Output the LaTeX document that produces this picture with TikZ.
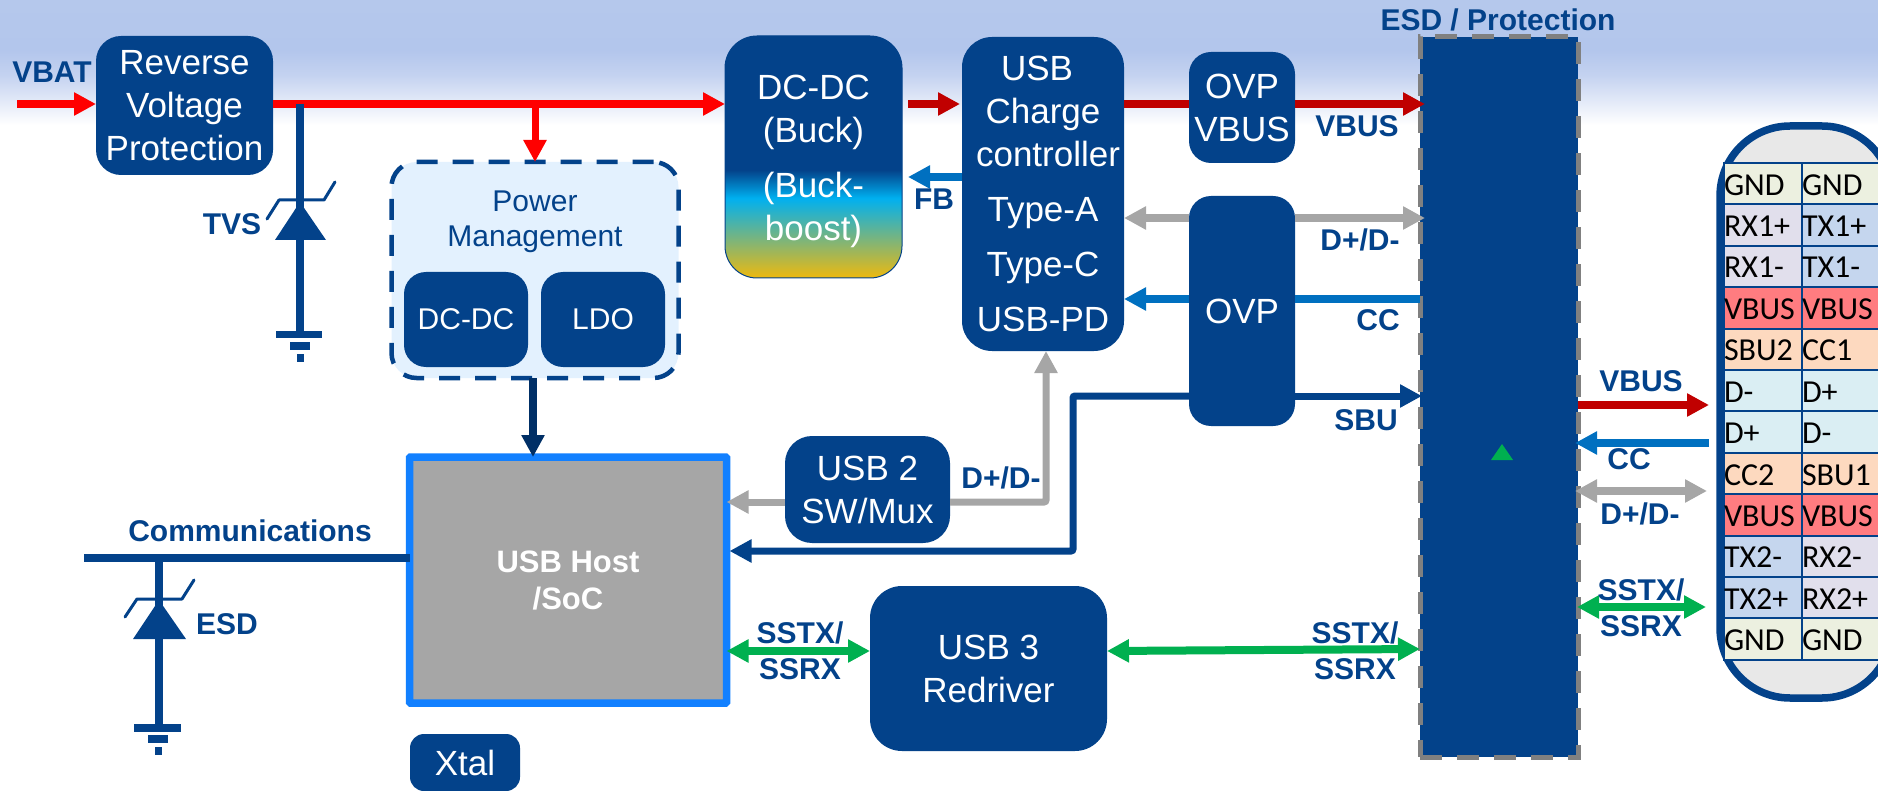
\documentclass[tikz,border=0pt]{standalone}
\usepackage{fontspec}
\setmainfont{Liberation Sans}
\newfontfamily\pinfont{Carlito}
\usetikzlibrary{arrows.meta}
\definecolor{navy}{HTML}{03428A}
\definecolor{deepnavy}{HTML}{002F66}
\definecolor{pmfill}{HTML}{E3F1FE}
\definecolor{wred}{HTML}{FF0000}
\definecolor{wdred}{HTML}{C00000}
\definecolor{wgray}{HTML}{A6A6A6}
\definecolor{wblue}{HTML}{0070C0}
\definecolor{wgreen}{HTML}{00B050}
\definecolor{socblue}{HTML}{1280FF}
\definecolor{pgnd}{HTML}{ECF0E0}
\definecolor{prx}{HTML}{E1DFEC}
\definecolor{ptx}{HTML}{C5D6EE}
\definecolor{pvb}{HTML}{FF7C80}
\definecolor{porg}{HTML}{FDD9BF}
\definecolor{pd}{HTML}{DAEEF3}
\definecolor{byellow}{HTML}{EEB90F}
\definecolor{bcyan}{HTML}{00B0F0}
\definecolor{skya}{HTML}{C4D2F0}
\definecolor{skyb}{HTML}{B3C6EC}
\definecolor{skyc}{HTML}{B5C8EC}
\pgfdeclareverticalshading{buckshade}{100bp}{color(0bp)=(byellow);color(25bp)=(byellow);color(41.5bp)=(bcyan);color(47.3bp)=(navy);color(100bp)=(navy)}
\pgfdeclareverticalshading{skyshade}{100bp}{color(0bp)=(white);color(25bp)=(white);color(45bp)=(skya);color(55bp)=(skyb);color(75bp)=(skyc);color(100bp)=(skyc)}
\tikzset{
  >={Triangle[width=22pt,length=22pt]},
  navybox/.style={fill=navy,text=white,inner sep=0pt,outer sep=0pt,align=center,rounded corners=#1,font=\fontsize{35}{43}\selectfont},
  navybox/.default=25pt,
  subbox/.style={navybox=22pt,font=\fontsize{30}{36}\selectfont},
  lbl/.style={text=navy,inner sep=0pt,align=center,font=\fontsize{30}{36}\selectfont\bfseries},
  wire/.style={line width=8pt},
  pin/.style={draw=navy,line width=2pt,anchor=north west,inner xsep=0pt,inner ysep=0pt,outer sep=0pt,minimum height=41.4pt,text width=#1,align=left,text height=26pt,text depth=3pt,font=\fontsize{32}{36}\selectfont\pinfont,text=black},
  zener/.style={draw=navy,line width=3pt,line cap=round},
  gbar/.style={fill=navy},
}
\begin{document}
\begin{tikzpicture}[x=1pt,y=-1pt]
\useasboundingbox (0,0) rectangle (1878,791);
\clip (0,0) rectangle (1878,791);
\shade[shading=skyshade] (0,0) rectangle (1878,125);

% blocks
\node[navybox,minimum width=177pt,minimum height=139pt] (rvp) at (184.5,105.5) {Reverse\\Voltage\\Protection};
\node[draw=navy,line width=1pt,shading=buckshade,inner sep=0pt,outer sep=0pt,rounded corners=32pt,minimum width=177pt,minimum height=242pt] (buck) at (813.5,157) {};
\node[text=white,inner sep=0pt,align=center,font=\fontsize{35}{43}\selectfont] (bucktext) at (813.5,161) {DC-DC\\(Buck)\\[12pt](Buck-\\boost)};
\node[navybox=30pt,minimum width=162pt,minimum height=314pt] (charge) at (1043,194) {\hspace*{-12pt}USB\\Charge\\\hspace*{10pt}controller\\[12pt]Type-A\\[12pt]Type-C\\[12pt]USB-PD};
\node[navybox=22pt,minimum width=106pt,minimum height=111pt] (ovpv) at (1242,107.5) {OVP\\VBUS};
\node[navybox=22pt,minimum width=106pt,minimum height=230pt] (ovp) at (1242,311) {OVP};
\node[fill=pmfill,draw=navy,line width=4.5pt,dash pattern=on 21pt off 15pt,rounded corners=25pt,inner sep=0pt,outer sep=0pt,minimum width=287pt,minimum height=216pt] (pm) at (535,270) {};
\node[text=navy,inner sep=0pt,align=center,font=\fontsize{30}{35}\selectfont] (pmt) at (535,222) {Power\\Management};
\node[subbox,minimum width=124pt,minimum height=95pt] (pmdc) at (466,319.5) {DC-DC};
\node[subbox,minimum width=124pt,minimum height=95pt] (pmldo) at (603,319.5) {LDO};
\node[fill=wgray,draw=socblue,line width=7.5pt,rounded corners=1pt,text=white,inner sep=0pt,outer sep=0pt,align=center,font=\fontsize{31}{37}\selectfont\bfseries,minimum width=317pt,minimum height=246pt] (soc) at (568,580) {USB Host\\/SoC};
\node[navybox=14pt,minimum width=110pt,minimum height=57pt] (xtal) at (465,762.5) {Xtal};
\node[navybox=27pt,minimum width=165pt,minimum height=107pt] (usbtwo) at (867.5,489.5) {USB 2\\SW/Mux};
\node[navybox=32pt,minimum width=237pt,minimum height=165pt] (usbthree) at (988.5,668.5) {USB 3\\Redriver};
\node[fill=navy,draw=gray,line width=5pt,dash pattern=on 22pt off 15pt,inner sep=0pt,outer sep=0pt,minimum width=158pt,minimum height=720pt] (esd) at (1499,397) {};
\fill[wgreen] (1502,444) -- (1513,460) -- (1491,460) -- cycle;

% connector outline and pins
\node[fill=black!9,draw=navy,line width=7.5pt,rounded corners=70pt,inner sep=0pt,outer sep=0pt,minimum width=172pt,minimum height=572pt] (conn) at (1806,412) {};
\foreach \i/\a/\ca/\b/\cb in {
 0/GND/pgnd/GND/pgnd,
 1/RX1+/prx/TX1+/ptx,
 2/RX1-/prx/TX1-/ptx,
 3/VBUS/pvb/VBUS/pvb,
 4/SBU2/porg/CC1/porg,
 5/D-/pd/D+/pd,
 6/D+/pd/D-/pd,
 7/CC2/porg/SBU1/porg,
 8/VBUS/pvb/VBUS/pvb,
 9/TX2-/ptx/RX2-/prx,
 10/TX2+/ptx/RX2+/prx,
 11/GND/pgnd/GND/pgnd}{
  \node[pin=78pt,fill=\ca] (pa\i) at (1724,163+41.4*\i) {\a};
  \node[pin=86pt,fill=\cb] (pb\i) at (1802,163+41.4*\i) {\b};
}

% free ends
\coordinate (vbatin) at (17,104);
\coordinate (tvstap) at (300,104);
\coordinate (pmtap) at (535,104);
\coordinate (commin) at (84,558);
\coordinate (esdtap) at (159,558);

% power rail
\draw[wire,wred,->] (vbatin) -- (rvp.west |- vbatin);
\draw[wire,wred,->] (rvp.east |- tvstap) -- (buck.west |- tvstap);
\draw[wred,line width=7pt,->] (pmtap) -- (pm.north);
\draw[wire,wdred,->,shorten >=2pt] ([xshift=6pt]buck.east |- tvstap) -- (charge.west |- tvstap);
\draw[wire,wblue,->] (charge.west |- 0,177) -- ([xshift=6pt]buck.east |- 0,177);
\draw[wire,wdred] (charge.east |- tvstap) -- (ovpv.west |- tvstap);
\draw[wire,wdred,->,shorten >=-5pt] (ovpv.east |- tvstap) -- (esd.west |- tvstap);
\draw[wire,deepnavy,->] ([xshift=-2pt]pm.south) -- ([xshift=-2pt]pm.south |- soc.north);

% data lines through OVP
\draw[wire,wgray,->] (ovp.west |- 0,218) -- (charge.east |- 0,218);
\draw[wire,wgray,->,shorten >=-5pt] (ovp.east |- 0,218) -- (esd.west |- 0,218);
\draw[wire,wblue,->] (ovp.west |- 0,299) -- (charge.east |- 0,299);
\draw[wire,wblue] (esd.west |- 0,299) -- (ovp.east |- 0,299);
\draw[line width=7pt,navy,->,shorten >=-2pt] (ovp.east |- 0,396) -- (esd.west |- 0,396);
\draw[line width=7pt,navy,->,rounded corners=2pt,shorten >=3pt] (ovp.west |- 0,396) -| (1073,551) -- (soc.east |- 0,551);
\draw[line width=7pt,wgray,->,rounded corners=2pt] (usbtwo.east |- 0,502) -| ([xshift=3pt]charge.south);
\draw[line width=7pt,wgray,->] (usbtwo.west |- 0,502) -- (soc.east |- 0,502);
\draw[wire,wgreen,<->] (soc.east |- 0,651) -- (usbthree.west |- 0,651);
\draw[wire,wgreen,<->] (usbthree.east |- 0,651) -- (esd.west |- 0,649);

% connector side
\draw[wire,wdred,->] (esd.east |- 0,405) -- (1709,405) coordinate (vbusend);
\draw[wire,wblue,->,shorten >=-3pt] (1709,443) coordinate (ccstart) -- (esd.east |- 0,443);
\draw[wire,wgray,<->,shorten <=-3pt] (esd.east |- 0,491) -- (1707,491) coordinate (dpend);
\draw[wire,wgreen,<->,shorten <=-1pt] (esd.east |- 0,607) -- (1706,607) coordinate (ssend);

% communications
\draw[wire,navy] (commin) -- (soc.west |- commin);

% TVS
\coordinate (tvsgnd) at (300,331);
\draw[line width=7.5pt,navy] (tvstap) -- (tvsgnd);
\fill[navy] (300,202) -- (326,240) -- (275,240) -- cycle;
\draw[zener,line join=round] (267,219) -- (279,200) -- (324,200) -- (335,182);
\fill[gbar] (276,331) rectangle (322,338);
\fill[gbar] (290,342) rectangle (310,350);
\fill[gbar] (297,354) rectangle (304,362);

% ESD diode
\coordinate (esdgnd) at (159,724);
\draw[line width=7.5pt,navy] (esdtap) -- (esdgnd);
\fill[navy] (159,600) -- (186,639) -- (133,639) -- cycle;
\draw[zener,line join=round] (125,617) -- (137,599) -- (182,599) -- (194,580);
\fill[gbar] (134,724) rectangle (181,732);
\fill[gbar] (148,735) rectangle (168,743);
\fill[gbar] (155,747) rectangle (162,755);

% labels
\node[lbl] (lvbat) at (52,72) {VBAT};
\node[lbl] (ltvs) at (232,224) {TVS};
\node[lbl] (lesd) at (227,624) {ESD};
\node[lbl] (lcomm) at (250,531) {Communications};
\node[lbl] (lfb) at (934,199) {FB};
\node[lbl] (lvbus) at (1357,126) {VBUS};
\node[lbl] (ldpa) at (1360,240) {D+/D-};
\node[lbl] (lcc) at (1378,320) {CC};
\node[lbl] (lsbu) at (1366,420) {SBU};
\node[lbl] (ldpb) at (1001,478) {D+/D-};
\node[lbl] (lssa) at (800,651) {SSTX/\\SSRX};
\node[lbl] (lssb) at (1355,651) {SSTX/\\SSRX};
\node[lbl] (ltitle) at (1498,20) {ESD / Protection};
\node[lbl] (lvbusr) at (1641,381) {VBUS};
\node[lbl] (lccr) at (1629,459) {CC};
\node[lbl] (ldpr) at (1640,514) {D+/D-};
\node[lbl] (lssr) at (1641,607.5) {SSTX/\\SSRX};
\end{tikzpicture}
\end{document}
